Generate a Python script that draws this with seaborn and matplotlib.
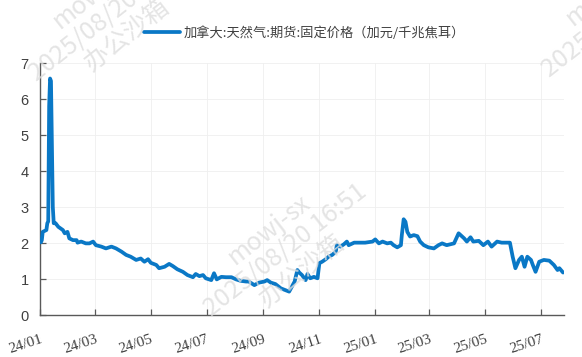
import matplotlib
matplotlib.use('Agg')
import matplotlib.pyplot as plt
import seaborn as sns
import pandas as pd

series_name = '加拿大:天然气:期货:固定价格（加元/千兆焦耳）'

dates = [
    '2024-01-02', '2024-01-03', '2024-01-04', '2024-01-08', '2024-01-09', '2024-01-10',
    '2024-01-11', '2024-01-12', '2024-01-13', '2024-01-15', '2024-01-16', '2024-01-18',
    '2024-01-21', '2024-01-26', '2024-01-28', '2024-01-31', '2024-02-02', '2024-02-06',
    '2024-02-10', '2024-02-11', '2024-02-15', '2024-02-20', '2024-02-24', '2024-02-28',
    '2024-03-02', '2024-03-08', '2024-03-13', '2024-03-19', '2024-03-24', '2024-03-30',
    '2024-04-04', '2024-04-09', '2024-04-15', '2024-04-20', '2024-04-24', '2024-04-28',
    '2024-05-01', '2024-05-07', '2024-05-10', '2024-05-16', '2024-05-21', '2024-05-25',
    '2024-05-30', '2024-06-05', '2024-06-10', '2024-06-16', '2024-06-19', '2024-06-23',
    '2024-06-27', '2024-06-30', '2024-07-06', '2024-07-09', '2024-07-12', '2024-07-17',
    '2024-07-22', '2024-07-28', '2024-08-02', '2024-08-07', '2024-08-13', '2024-08-16',
    '2024-08-22', '2024-08-27', '2024-09-02', '2024-09-05', '2024-09-09', '2024-09-14',
    '2024-09-20', '2024-09-25', '2024-09-29', '2024-10-02', '2024-10-05', '2024-10-08',
    '2024-10-10', '2024-10-13', '2024-10-17', '2024-10-19', '2024-10-22', '2024-10-26',
    '2024-10-30', '2024-11-01', '2024-11-04', '2024-11-08', '2024-11-11', '2024-11-15',
    '2024-11-19', '2024-11-20', '2024-11-24', '2024-11-28', '2024-12-01', '2024-12-03',
    '2024-12-09', '2024-12-14', '2024-12-21', '2024-12-29', '2025-01-01', '2025-01-05',
    '2025-01-09', '2025-01-14', '2025-01-18', '2025-01-21', '2025-01-25', '2025-01-29',
    '2025-01-30', '2025-02-01', '2025-02-03', '2025-02-05', '2025-02-08', '2025-02-12',
    '2025-02-16', '2025-02-19', '2025-02-23', '2025-02-28', '2025-03-06', '2025-03-11',
    '2025-03-15', '2025-03-20', '2025-03-28', '2025-04-02', '2025-04-08', '2025-04-11',
    '2025-04-15', '2025-04-18', '2025-04-24', '2025-04-29', '2025-05-04', '2025-05-08',
    '2025-05-14', '2025-05-19', '2025-05-28', '2025-05-31', '2025-06-03', '2025-06-07',
    '2025-06-10', '2025-06-13', '2025-06-16', '2025-06-20', '2025-06-22', '2025-06-25',
    '2025-06-29', '2025-07-04', '2025-07-10', '2025-07-15', '2025-07-19', '2025-07-21',
    '2025-07-25',
]
values = [
    2.02, 2.08, 2.31, 2.36, 2.55, 2.60,
    5.80, 6.57, 6.50, 3.00, 2.55, 2.55,
    2.45, 2.36, 2.27, 2.31, 2.13, 2.08,
    2.08, 2.01, 2.04, 1.99, 1.99, 2.04,
    1.94, 1.90, 1.85, 1.90, 1.85, 1.76,
    1.67, 1.62, 1.53, 1.57, 1.48, 1.55,
    1.45, 1.39, 1.30, 1.34, 1.42, 1.36,
    1.27, 1.20, 1.11, 1.05, 1.14, 1.08,
    1.11, 1.02, 0.97, 1.16, 0.99, 1.06,
    1.05, 1.05, 0.99, 0.95, 0.93, 0.93,
    0.83, 0.90, 0.93, 0.97, 0.90, 0.86,
    0.74, 0.69, 0.65, 0.79, 0.93, 1.25,
    1.18, 1.11, 0.97, 1.14, 1.02, 1.06,
    1.02, 1.44, 1.48, 1.55, 1.62, 1.67,
    1.76, 1.94, 1.90, 1.97, 2.04, 1.94,
    2.01, 2.01, 2.01, 2.04, 2.10, 1.99,
    2.04, 1.99, 2.01, 1.94, 1.88, 1.94,
    2.22, 2.66, 2.59, 2.31, 2.18, 2.22,
    2.19, 2.04, 1.94, 1.88, 1.85, 1.94,
    1.99, 1.94, 1.99, 2.27, 2.13, 2.04,
    2.16, 2.04, 2.06, 1.94, 2.04, 1.90,
    2.04, 2.01, 2.01, 1.62, 1.30, 1.53,
    1.62, 1.34, 1.62, 1.53, 1.39, 1.20,
    1.48, 1.53, 1.51, 1.39, 1.25, 1.30,
    1.18,
]

tick_dates = ['2024-01-01', '2024-03-01', '2024-05-01', '2024-07-01', '2024-09-01',
              '2024-11-01', '2025-01-01', '2025-03-01', '2025-05-01', '2025-07-01']
tick_labels = ['24/01', '24/03', '24/05', '24/07', '24/09',
               '24/11', '25/01', '25/03', '25/05', '25/07']
y_ticks = [0, 1, 2, 3, 4, 5, 6, 7]

watermark = 'mowj-sx\n2025/08/20 16:51\n办公沙箱'

sns.set_theme(style='white')
plt.rcParams['font.family'] = ['Noto Sans CJK SC', 'DejaVu Sans']

df = pd.DataFrame({'date': pd.to_datetime(dates), 'value': values})

fig = plt.figure(figsize=(5.82, 3.57), dpi=100)
fig.patch.set_facecolor('white')
ax = fig.add_axes([0.0687, 0.1176, 0.9003, 0.7059])

# watermarks (partly outside the canvas, as in the reference)
for (wx, wy) in [(0.49, 0.30), (0.19, 0.96), (1.07, 0.97)]:
    fig.text(wx, wy, watermark, rotation=38, ha='center', va='center',
             fontsize=18, color='#dedede', alpha=0.8, linespacing=1.0,
             family=['Noto Sans CJK SC', 'DejaVu Sans'], zorder=0)

line_color = '#0a78c6'
sns.lineplot(data=df, x='date', y='value', ax=ax, color=line_color,
             linewidth=2.7, label=series_name, zorder=3)

ax.set_xlim(pd.Timestamp('2024-01-01'), pd.Timestamp('2025-07-26'))
ax.set_ylim(0, 7)
ax.set_yticks(y_ticks)
ax.set_yticklabels([str(v) for v in y_ticks], family='Liberation Sans',
                   fontsize=10.5, color='#404040')
ax.set_xticks(pd.to_datetime(tick_dates))
ax.set_xticklabels(tick_labels, rotation=18, ha='right', rotation_mode='anchor',
                   family='Liberation Serif', fontsize=11, color='#404040')
ax.set_xlabel('')
ax.set_ylabel('')

ax.set_facecolor('none')
ax.grid(True, color='#efefef', linewidth=0.6)
ax.set_axisbelow(True)
for s in ['top', 'right']:
    ax.spines[s].set_visible(False)
for s in ['left', 'bottom']:
    ax.spines[s].set_color('#595959')
    ax.spines[s].set_linewidth(1.0)
ax.tick_params(axis='both', direction='in', length=4, width=0.9, color='#595959',
               left=True, bottom=True)
ax.tick_params(axis='y', pad=8)
ax.tick_params(axis='x', pad=13)

leg = ax.legend(loc='center', bbox_to_anchor=(0.524, 0.9076),
                bbox_transform=fig.transFigure, frameon=False,
                handlelength=2.7, handletextpad=0.3, fontsize=9.5)
for t in leg.get_texts():
    t.set_color('#404040')

fig.savefig('out.png', dpi=100, facecolor='white')
